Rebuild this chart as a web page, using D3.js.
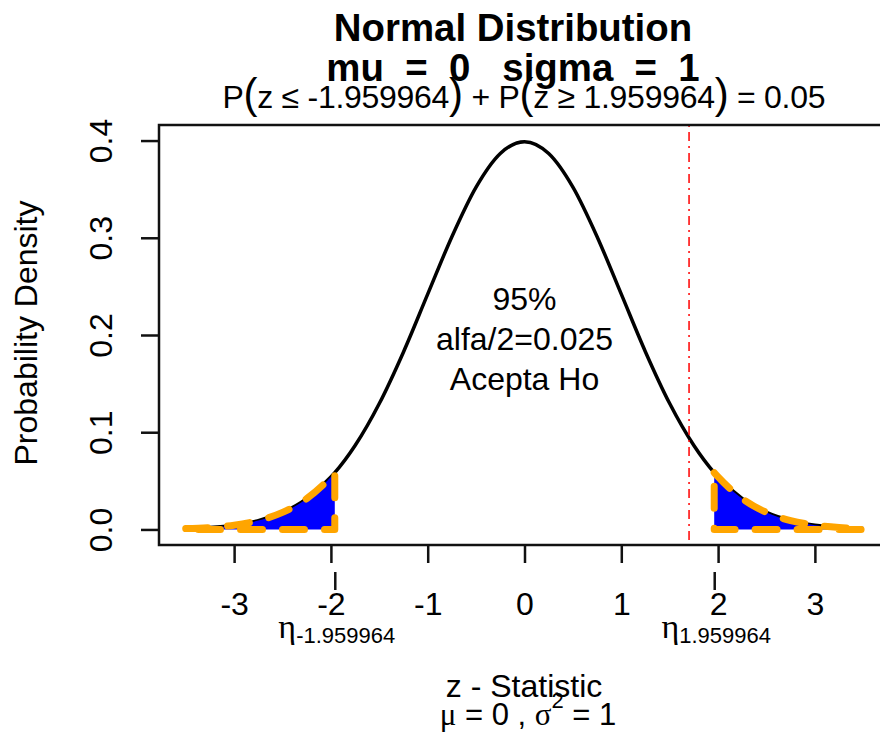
<!DOCTYPE html>
<html>
<head>
<meta charset="utf-8">
<script src="https://cdn.jsdelivr.net/npm/d3@7"></script>
<style>
  body { margin: 0; background: #fff; }
  svg text { font-family: "Liberation Sans", Arial, sans-serif; fill: #000; }
</style>
</head>
<body>
<div id="chart"></div>
<script>
// density values
var zValues = [-3.5, -3.25, -3, -2.75, -2.5, -2.25, -2, -1.959964, -1.75, -1.5, -1.25, -1, -0.75, -0.5, -0.25,
               0, 0.25, 0.5, 0.75, 1, 1.25, 1.5, 1.75, 1.959964, 2, 2.25, 2.5, 2.75, 3, 3.25, 3.5];
var density = [0.0009, 0.0020, 0.0044, 0.0091, 0.0175, 0.0317, 0.0540, 0.0584, 0.0863, 0.1295, 0.1826, 0.2420, 0.3011, 0.3521, 0.3867,
               0.3989, 0.3867, 0.3521, 0.3011, 0.2420, 0.1826, 0.1295, 0.0863, 0.0584, 0.0540, 0.0317, 0.0175, 0.0091, 0.0044, 0.0020, 0.0009];
var xTicks = [-3, -2, -1, 0, 1, 2, 3];
var yTicks = [0, 0.1, 0.2, 0.3, 0.4];
var criticalZ = [-1.959964, 1.959964];
var etaLabels = ["-1.959964", "1.959964"];
var observedZ = 1.70;
var centerLines = ["95%", "alfa/2=0.025", "Acepta Ho"];

var width = 880,
    height = 733;

var x = d3.scaleLinear().domain([-3.776, 3.776]).range([159, 890]);
var y = d3.scaleLinear().domain([-0.016, 0.416]).range([545, 125]);

var svg = d3.select("#chart").append("svg")
    .attr("width", width)
    .attr("height", height);

var points = zValues.map(function (z, i) { return [z, density[i]]; });

var line = d3.line()
    .x(function (d) { return x(d[0]); })
    .y(function (d) { return y(d[1]); })
    .curve(d3.curveMonotoneX);

// density curve
svg.append("path")
    .attr("d", line(points))
    .attr("fill", "none")
    .attr("stroke", "#000")
    .attr("stroke-width", 3.5);

// shaded rejection tails
function tail(lo, hi) {
    var pts = points.filter(function (d) { return d[0] >= lo - 1e-9 && d[0] <= hi + 1e-9; });
    var area = d3.area()
        .x(function (d) { return x(d[0]); })
        .y0(y(0))
        .y1(function (d) { return y(d[1]); })
        .curve(d3.curveMonotoneX);
    return area(pts);
}
var tails = [[-3.5, criticalZ[0]], [criticalZ[1], 3.5]];
svg.selectAll(".tail")
    .data(tails)
    .enter().append("path")
    .attr("class", "tail")
    .attr("d", function (d) { return tail(d[0], d[1]); })
    .attr("fill", "#0000ff")
    .attr("stroke", "#ffa500")
    .attr("stroke-width", 7)
    .attr("stroke-dasharray", "22 20")
    .attr("stroke-linecap", "round")
    .attr("stroke-linejoin", "round");

// observed statistic line
svg.append("line")
    .attr("x1", x(observedZ)).attr("x2", x(observedZ))
    .attr("y1", y.range()[1]).attr("y2", y.range()[0])
    .attr("stroke", "#ff0000")
    .attr("stroke-width", 1.5)
    .attr("stroke-dasharray", "2 5 9 5");

// plot box
svg.append("rect")
    .attr("x", 159).attr("y", 125)
    .attr("width", 890 - 159).attr("height", 545 - 125)
    .attr("fill", "none")
    .attr("stroke", "#111")
    .attr("stroke-width", 2.5);

// x axis
var xAxis = svg.append("g")
    .attr("transform", "translate(0,545)")
    .call(d3.axisBottom(x).tickValues(xTicks).tickSize(18).tickPadding(29).tickFormat(d3.format("d")));
xAxis.select(".domain").remove();
xAxis.selectAll("line").attr("stroke", "#111").attr("stroke-width", 2.5);
xAxis.selectAll("text").attr("font-size", 32).attr("font-family", "Liberation Sans, Arial, sans-serif")
    .text(function (d) { return d < 0 ? "-" + Math.abs(d) : d; });

// critical value ticks
var etaAxis = svg.append("g")
    .attr("transform", "translate(0,572)")
    .call(d3.axisBottom(x).tickValues(criticalZ).tickSize(18).tickFormat(""));
etaAxis.select(".domain").remove();
etaAxis.selectAll("line").attr("stroke", "#111").attr("stroke-width", 2.5);

var eta = svg.selectAll(".eta")
    .data(criticalZ)
    .enter().append("text")
    .attr("class", "eta")
    .attr("x", function (d) { return x(d) + 2; })
    .attr("y", 638)
    .attr("text-anchor", "middle");
eta.append("tspan")
    .attr("font-family", "Liberation Serif, serif")
    .attr("font-size", 34)
    .text("η");
eta.append("tspan")
    .attr("font-size", 22)
    .attr("dy", 5)
    .text(function (d, i) { return etaLabels[i]; });

// y axis
var yAxis = svg.append("g")
    .attr("transform", "translate(159,0)")
    .call(d3.axisLeft(y).tickValues(yTicks).tickSize(18).tickFormat(d3.format(".1f")));
yAxis.select(".domain").remove();
yAxis.selectAll("line").attr("stroke", "#111").attr("stroke-width", 2.5);
yAxis.selectAll("text")
    .attr("font-size", 32)
    .attr("font-family", "Liberation Sans, Arial, sans-serif")
    .attr("x", 0).attr("dy", 0)
    .attr("text-anchor", "middle")
    .attr("transform", "translate(-47,0) rotate(-90)");

// axis titles
svg.append("text")
    .attr("transform", "translate(37,333) rotate(-90)")
    .attr("text-anchor", "middle")
    .attr("font-size", 32)
    .text("Probability Density");

svg.append("text")
    .attr("x", 524).attr("y", 697)
    .attr("text-anchor", "middle")
    .attr("font-size", 32)
    .text("z - Statistic");

var sub = svg.append("text")
    .attr("x", 528).attr("y", 725)
    .attr("text-anchor", "middle")
    .attr("font-size", 31);
sub.append("tspan").attr("font-family", "Liberation Serif, serif").text("μ");
sub.append("tspan").text(" = 0 ,  ");
sub.append("tspan").attr("font-family", "Liberation Serif, serif").text("σ");
sub.append("tspan").attr("font-size", 22).attr("dy", -17).text("2");
sub.append("tspan").attr("dy", 17).text(" = 1");

// titles
svg.append("text")
    .attr("x", 513).attr("y", 41)
    .attr("text-anchor", "middle")
    .attr("font-size", 38.4)
    .attr("font-weight", "bold")
    .text("Normal Distribution");

svg.append("text")
    .attr("x", 513).attr("y", 81)
    .attr("text-anchor", "middle")
    .attr("font-size", 38.4)
    .attr("font-weight", "bold")
    .attr("xml:space", "preserve")
    .style("white-space", "pre")
    .text("mu  =  0   sigma  =  1");

var prob = svg.append("text")
    .attr("x", 524).attr("y", 108)
    .attr("text-anchor", "middle")
    .attr("font-size", 32)
    .attr("textLength", 603)
    .attr("lengthAdjust", "spacing");
prob.append("tspan").text("P");
prob.append("tspan").attr("font-size", 42).text("(");
prob.append("tspan").text("z ≤ -1.959964");
prob.append("tspan").attr("font-size", 42).text(")");
prob.append("tspan").text(" + P");
prob.append("tspan").attr("font-size", 42).text("(");
prob.append("tspan").text("z ≥ 1.959964");
prob.append("tspan").attr("font-size", 42).text(")");
prob.append("tspan").text(" = 0.05");

// centre annotation
svg.selectAll(".note")
    .data(centerLines)
    .enter().append("text")
    .attr("class", "note")
    .attr("x", x(0))
    .attr("y", function (d, i) { return 310 + i * 40; })
    .attr("text-anchor", "middle")
    .attr("font-size", 32)
    .text(function (d) { return d; });
</script>
</body>
</html>
